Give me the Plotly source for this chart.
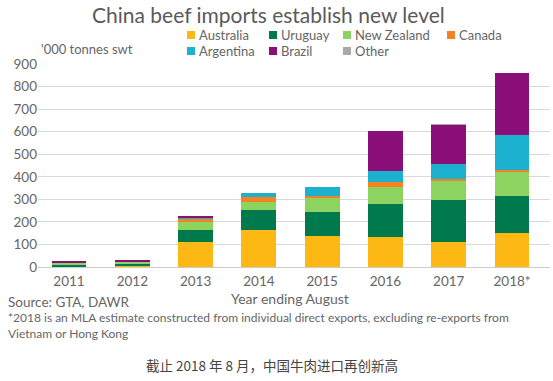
import plotly.graph_objects as go

years = ["2011", "2012", "2013", "2014", "2015", "2016", "2017", "2018*"]
australia = [2, 3, 110, 164, 139, 134, 111, 149]
uruguay = [8, 10, 54, 89, 106, 144, 186, 167]
new_zealand = [8, 12, 34, 37, 60, 75, 86, 107]
canada = [1, 1, 18, 22, 10, 24, 8, 7]
argentina = [2, 0, 5, 15, 41, 49, 64, 155]
brazil = [3, 1, 6, 0, 0, 177, 175, 274]
other = [0, 0, 0, 0, 0, 0, 3, 0]

series = [
    ("Australia", australia, "#FDB813"),
    ("Uruguay", uruguay, "#007A4D"),
    ("New Zealand", new_zealand, "#8DD35F"),
    ("Canada", canada, "#F58220"),
    ("Argentina", argentina, "#1CB2CF"),
    ("Brazil", brazil, "#8A0F78"),
    ("Other", other, "#A9A9A9"),
]

W, H = 553, 381
L, R, T, B = 38, 3, 64, 114
PW, PH = W - L - R, H - T - B


def px(x):
    return (x - L) / PW


def py(y):
    return (H - B - y) / PH


FONT = "Lato"
fig = go.Figure()
for name, vals, col in series:
    fig.add_trace(go.Bar(x=years, y=vals, name=name, marker=dict(color=col, line=dict(width=0)),
                         showlegend=False))

annotations = []
shapes = []
# custom legend (two rows)
legend_pos = [(187, 35), (269, 35), (343, 35), (447, 35), (187, 51), (269, 51), (343, 51)]
for (name, vals, col), (lx, ly) in zip(series, legend_pos):
    shapes.append(dict(type="rect", xref="paper", yref="paper",
                       x0=px(lx), x1=px(lx + 8), y0=py(ly + 4), y1=py(ly - 4),
                       fillcolor=col, line=dict(width=0)))
    annotations.append(dict(text=name, xref="paper", yref="paper", x=px(lx + 10), y=py(ly),
                            xanchor="left", yanchor="middle", showarrow=False,
                            font=dict(family=FONT, size=13, color="#666666")))

annotations += [
    dict(text="China beef imports establish new level", xref="paper", yref="paper",
         x=px(268), y=py(14), xanchor="center", yanchor="middle", showarrow=False,
         font=dict(family=FONT, size=21, color="#5a5a5a")),
    dict(text="'000 tonnes swt", xref="paper", yref="paper", x=px(39), y=py(49),
         xanchor="left", yanchor="middle", showarrow=False,
         font=dict(family=FONT, size=13, color="#666666")),
    dict(text="Year ending August", xref="paper", yref="paper", x=px(229), y=py(298),
         xanchor="left", yanchor="middle", showarrow=False,
         font=dict(family=FONT, size=14, color="#666666")),
    dict(text="Source: GTA, DAWR", xref="paper", yref="paper", x=px(6), y=py(302),
         xanchor="left", yanchor="middle", showarrow=False,
         font=dict(family=FONT, size=13.5, color="#666666")),
    dict(text="*2018 is an MLA estimate constructed from individual direct exports, excluding re-exports from",
         xref="paper", yref="paper", x=px(6), y=py(317),
         xanchor="left", yanchor="middle", showarrow=False,
         font=dict(family=FONT, size=12, color="#666666")),
    dict(text="Vietnam or Hong Kong", xref="paper", yref="paper", x=px(6), y=py(333),
         xanchor="left", yanchor="middle", showarrow=False,
         font=dict(family=FONT, size=12, color="#666666")),
    dict(text="截止 2018 年 8 月，中国牛肉进口再创新高", xref="paper", yref="paper", x=px(272), y=py(365),
         xanchor="center", yanchor="middle", showarrow=False,
         font=dict(family="Noto Sans CJK SC", size=13.5, color="#444444")),
]

fig.update_layout(
    width=W, height=H, barmode="stack", bargap=0.45,
    margin=dict(l=L, r=R, t=T, b=B),
    paper_bgcolor="white", plot_bgcolor="white",
    font=dict(family=FONT, color="#666666"),
    annotations=annotations, shapes=shapes,
    xaxis=dict(range=[-0.49, 7.6], showgrid=False, showline=False, zeroline=False,
               tickfont=dict(family=FONT, size=13.5, color="#666666"), ticks="",
               ticklabelstandoff=4),
    yaxis=dict(range=[0, 900], dtick=100, showgrid=True, gridcolor="#d9d9d9", gridwidth=1,
               zeroline=True, zerolinecolor="#cccccc", zerolinewidth=1, showline=False,
               tickfont=dict(family=FONT, size=13.5, color="#666666"), ticks=""),
)

fig.write_html("out.html", config={"displayModeBar": False},
               post_script="document.body.style.margin='0';document.body.style.overflow='hidden';")
